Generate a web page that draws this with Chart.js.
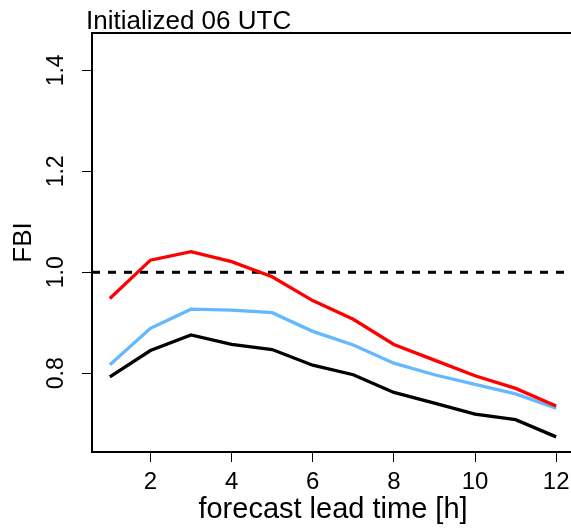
<!DOCTYPE html>
<html>
<head>
<meta charset="utf-8">
<script src="https://cdn.jsdelivr.net/npm/chart.js@4/dist/chart.umd.min.js"></script>
<style>
  html, body { margin: 0; padding: 0; background: #fff; overflow: hidden; width: 571px; height: 530px; }
  canvas { display: block; }
</style>
</head>
<body>
<canvas id="c" width="576" height="530" style="width:576px;height:530px"></canvas>
<script>
// ---- data ----
const leadTime = [1, 2, 3, 4, 5, 6, 7, 8, 9, 10, 11, 12];
const fbiRed   = [0.948, 1.024, 1.041, 1.021, 0.991, 0.944, 0.907, 0.857, 0.826, 0.795, 0.770, 0.735];
const fbiBlue  = [0.817, 0.889, 0.927, 0.925, 0.920, 0.883, 0.856, 0.820, 0.797, 0.778, 0.759, 0.731];
const fbiBlack = [0.793, 0.845, 0.876, 0.857, 0.847, 0.816, 0.797, 0.762, 0.741, 0.719, 0.708, 0.674];
const xTickValues = [2, 4, 6, 8, 10, 12];
const yTickValues = [0.8, 1.0, 1.2, 1.4];
const referenceFBI = 1.0;
const titleText = 'Initialized 06 UTC';
const xTitle = 'forecast lead time [h]';
const yTitle = 'FBI';

const toPoints = arr => leadTime.map((x, i) => ({ x: x, y: arr[i] }));

const refLinePlugin = {
  id: 'refLine',
  beforeDatasetsDraw(chart) {
    const { ctx, chartArea, scales } = chart;
    const y = scales.y.getPixelForValue(referenceFBI);
    ctx.save();
    ctx.beginPath();
    ctx.rect(chartArea.left, chartArea.top, chartArea.right - chartArea.left, chartArea.bottom - chartArea.top);
    ctx.clip();
    ctx.strokeStyle = '#000';
    ctx.lineWidth = 3;
    ctx.setLineDash([8, 8]);
    ctx.beginPath();
    ctx.moveTo(chartArea.left, y);
    ctx.lineTo(chartArea.right, y);
    ctx.stroke();
    ctx.restore();
  }
};

const boxPlugin = {
  id: 'box',
  afterDraw(chart) {
    const { ctx, chartArea } = chart;
    ctx.save();
    ctx.strokeStyle = '#000';
    ctx.lineWidth = 2;
    ctx.strokeRect(chartArea.left, chartArea.top, chartArea.right - chartArea.left, chartArea.bottom - chartArea.top);
    ctx.fillStyle = '#000';
    ctx.font = '26px "Liberation Sans", Arial, sans-serif';
    ctx.textAlign = 'left';
    ctx.textBaseline = 'alphabetic';
    ctx.fillText(titleText, chartArea.left - 6, 29);
    ctx.restore();
  }
};

const ds = (label, data, color) => ({
  label: label,
  data: toPoints(data),
  borderColor: color,
  backgroundColor: color,
  borderWidth: 3.3,
  pointRadius: 0,
  tension: 0,
  fill: false
});

new Chart(document.getElementById('c'), {
  type: 'line',
  data: {
    datasets: [
      ds('red', fbiRed, '#ff0000'),
      ds('blue', fbiBlue, '#63b8ff'),
      ds('black', fbiBlack, '#000000')
    ]
  },
  options: {
    responsive: false,
    animation: false,
    devicePixelRatio: 1,
    layout: { padding: { top: 33, right: 2, left: 0, bottom: 0 } },
    plugins: { legend: { display: false }, title: { display: false }, tooltip: { enabled: false } },
    scales: {
      x: {
        type: 'linear',
        min: 0.56,
        max: 12.44,
        afterBuildTicks: s => { s.ticks = xTickValues.map(v => ({ value: v })); },
        afterFit: s => { s.height = 78; },
        grid: { display: true, drawOnChartArea: false, drawTicks: true, tickLength: 10, color: '#000', lineWidth: 1 },
        border: { display: false },
        ticks: { color: '#000', font: { family: '"Liberation Sans", Arial, sans-serif', size: 24 }, padding: 6, maxRotation: 0, autoSkip: false },
        title: { display: true, text: xTitle, color: '#000', font: { family: '"Liberation Sans", Arial, sans-serif', size: 29 }, padding: { top: 0, bottom: 3 } }
      },
      y: {
        type: 'linear',
        min: 0.644,
        max: 1.474,
        afterBuildTicks: s => { s.ticks = yTickValues.map(v => ({ value: v })); },
        afterFit: s => { s.width = 92; },
        grid: { display: true, drawOnChartArea: false, drawTicks: true, tickLength: 10, color: '#000', lineWidth: 1 },
        border: { display: false },
        ticks: { color: '#000', font: { family: '"Liberation Sans", Arial, sans-serif', size: 23 }, padding: 9, minRotation: 90, maxRotation: 90, crossAlign: 'center', autoSkip: false,
                 callback: v => v.toFixed(1) },
        title: { display: true, text: yTitle, color: '#000', font: { family: '"Liberation Sans", Arial, sans-serif', size: 26 }, padding: { top: 8, bottom: 0 } }
      }
    }
  },
  plugins: [refLinePlugin, boxPlugin]
});
</script>
</body>
</html>
